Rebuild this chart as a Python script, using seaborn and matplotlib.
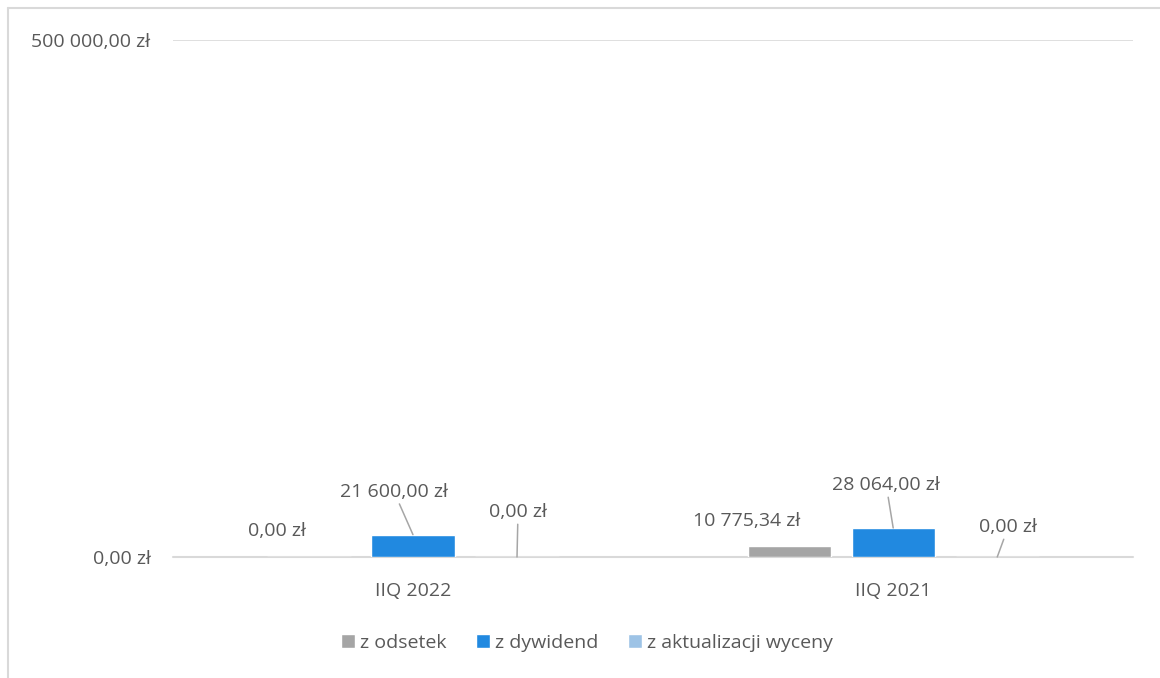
import pandas as pd
import seaborn as sns
import matplotlib.pyplot as plt
from matplotlib.lines import Line2D

quarters = ['IIQ 2022', 'IIQ 2021']
series = ['z odsetek', 'z dywidend', 'z aktualizacji wyceny']
z_odsetek = [0.00, 10775.34]
z_dywidend = [21600.00, 28064.00]
z_aktualizacji = [0.00, 0.00]

colors = ['#a5a5a5', '#2189e0', '#9dc3e6']
text_color = '#595959'
grid_color = '#d9d9d9'
fs = 14

sns.set_theme(style='white')
plt.rcParams['font.family'] = ['Open Sans', 'DejaVu Sans']
plt.rcParams['font.size'] = fs


def fmt_pln(v):
    whole, frac = f'{v:,.2f}'.split('.')
    return whole.replace(',', ' ') + ',' + frac + ' zł'


df = pd.DataFrame({
    'kwartal': quarters * 3,
    'seria': [s for s in series for _ in quarters],
    'wartosc': z_odsetek + z_dywidend + z_aktualizacji,
})

fig = plt.figure(figsize=(11.6, 6.78), dpi=100)
ax = fig.add_axes([0.149, 0.1785, 0.828, 0.7625])

sns.barplot(data=df, x='kwartal', y='wartosc', hue='seria', order=quarters,
            hue_order=series, palette=colors, width=0.65, gap=0.2,
            saturation=1, errorbar=None, legend=True, ax=ax)

ax.set_ylim(0, 500000)
ax.set_xlim(-0.5, 1.5)
ax.set_yticks([0, 500000])
ax.set_yticklabels([fmt_pln(0), fmt_pln(500000)])
ax.yaxis.grid(True, color=grid_color, lw=1.2)
ax.axhline(0, color=grid_color, lw=1.5, clip_on=False, zorder=0.5)
ax.set_axisbelow(True)
ax.tick_params(axis='y', length=0, pad=16, colors=text_color, labelsize=fs)
ax.tick_params(axis='x', length=0, pad=18, colors=text_color, labelsize=fs)
ax.set_xlabel('')
ax.set_ylabel('')
for sp in ax.spines.values():
    sp.set_visible(False)

# data label offsets in pixels (dx, dy, draw leader line)
label_style = [
    [(-32, 26, False), (-43, 25, False)],
    [(-19, 43, True), (-7, 43, True)],
    [(1, 45, True), (11, 30, True)],
]
for si, cont in enumerate(ax.containers):
    for bi, bar in enumerate(cont):
        x = bar.get_x() + bar.get_width() / 2
        h = bar.get_height()
        dx, dy, line = label_style[si][bi]
        ap = dict(arrowstyle='-', color='#a6a6a6', lw=1.1, shrinkA=0, shrinkB=0) if line else None
        ax.annotate(fmt_pln(h), xy=(x, h), xytext=(dx, dy), textcoords='offset pixels',
                    ha='center', va='center', color=text_color, fontsize=fs,
                    arrowprops=ap)

ax.get_legend().remove()
handles, labels = ax.get_legend_handles_labels()
fig.legend(handles, labels, loc='center', bbox_to_anchor=(0.506, 0.052), ncol=3,
           frameon=False, handlelength=0.75, handleheight=0.75, handletextpad=0.25,
           columnspacing=1.5, labelcolor=text_color, fontsize=fs)

fig.add_artist(Line2D([8 / 1160, 8 / 1160], [0, 1 - 8 / 678], color=grid_color, lw=1.5,
                      transform=fig.transFigure))
fig.add_artist(Line2D([8 / 1160, 1], [1 - 8 / 678, 1 - 8 / 678], color=grid_color, lw=1.5,
                      transform=fig.transFigure))

fig.savefig('out.png', dpi=100)
